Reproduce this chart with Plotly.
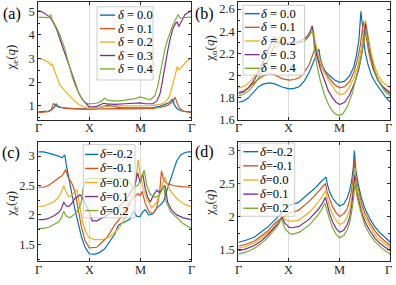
import plotly.graph_objects as go

W, H = 396, 285
COLORS = ['#0072BD', '#D95319', '#EDB120', '#7E2F8E', '#77AC30']
Q_TICKS = [0, 1, 2, 3]
Q_LABELS = ['Γ', 'X', 'M', 'Γ']
DELTA_TOP = ['0.0', '0.1', '0.2', '0.3', '0.4']
DELTA_BOT = ['-0.2', '-0.1', '0.0', '0.1', '0.2']

# ---------------- panel (a): chi_e, delta = 0.0 .. 0.4 ----------------
qa0 = [0, 0.1, 0.2, 0.26, 0.31, 0.35, 0.37, 0.42, 0.5, 0.7, 0.9, 1.0, 1.15, 1.3, 1.38, 1.45, 1.6, 1.8, 2.0, 2.2, 2.4, 2.5, 2.57, 2.64, 2.67, 2.72, 2.8, 2.9, 3.0]
ca0 = [0.73, 0.74, 0.77, 0.82, 0.92, 1.07, 1.0, 0.95, 0.9, 0.87, 0.85, 0.85, 0.9, 0.98, 1.02, 0.97, 0.92, 0.9, 0.89, 0.9, 0.98, 1.05, 1.12, 1.28, 1.05, 0.88, 0.78, 0.74, 0.73]
qa1 = [0, 0.1, 0.2, 0.25, 0.28, 0.30, 0.33, 0.4, 0.55, 0.75, 1.0, 1.2, 1.4, 1.6, 1.8, 2.0, 2.2, 2.4, 2.55, 2.63, 2.69, 2.72, 2.77, 2.85, 3.0]
ca1 = [0.70, 0.71, 0.74, 0.8, 0.95, 1.1, 1.0, 0.93, 0.88, 0.85, 0.84, 0.86, 0.88, 0.87, 0.86, 0.86, 0.87, 0.92, 1.02, 1.15, 1.35, 1.15, 0.9, 0.77, 0.70]
qa2 = [0, 0.1, 0.2, 0.25, 0.27, 0.3, 0.36, 0.42, 0.5, 0.6, 0.7, 0.8, 0.9, 1.0, 1.2, 1.4, 1.5, 1.7, 1.9, 2.0, 2.2, 2.4, 2.5, 2.58, 2.64, 2.69, 2.73, 2.76, 2.8, 2.9, 3.0]
ca2 = [3.0, 2.95, 2.84, 2.72, 2.78, 2.6, 2.2, 1.9, 1.68, 1.45, 1.22, 1.05, 0.94, 0.87, 0.92, 0.98, 1.0, 0.99, 1.0, 1.0, 1.0, 1.05, 1.15, 1.4, 1.85, 2.3, 2.66, 2.52, 2.6, 2.85, 3.0]
qa3 = [0, 0.1, 0.2, 0.25, 0.3, 0.36, 0.42, 0.49, 0.55, 0.6, 0.65, 0.7, 0.75, 0.8, 0.88, 1.0, 1.15, 1.28, 1.35, 1.5, 1.7, 1.9, 2.0, 2.1, 2.25, 2.33, 2.39, 2.44, 2.49, 2.54, 2.59, 2.65, 2.7, 2.73, 2.76, 2.8, 2.88, 3.0]
ca3 = [5.04, 4.95, 4.8, 4.7, 4.5, 4.24, 3.85, 3.42, 3.0, 2.7, 2.38, 2.04, 1.75, 1.5, 1.22, 0.94, 0.97, 1.1, 1.07, 1.05, 1.08, 1.1, 1.12, 1.08, 1.08, 1.2, 1.49, 2.05, 2.73, 3.3, 3.83, 4.3, 4.5, 4.55, 4.36, 4.55, 4.86, 5.04]
qa4 = [0, 0.1, 0.18, 0.22, 0.245, 0.27, 0.3, 0.36, 0.43, 0.52, 0.57, 0.62, 0.67, 0.72, 0.77, 0.82, 0.88, 0.95, 1.0, 1.15, 1.25, 1.3, 1.35, 1.45, 1.6, 1.8, 1.9, 2.0, 2.1, 2.2, 2.29, 2.35, 2.39, 2.44, 2.49, 2.54, 2.59, 2.64, 2.69, 2.73, 2.75, 2.78, 2.85, 3.0]
ca4 = [4.76, 4.76, 4.74, 4.78, 4.86, 4.65, 4.55, 4.3, 3.97, 3.42, 3.0, 2.59, 2.2, 1.9, 1.62, 1.42, 1.22, 1.1, 1.07, 1.1, 1.2, 1.32, 1.24, 1.2, 1.2, 1.25, 1.3, 1.37, 1.3, 1.25, 1.42, 1.85, 2.31, 2.9, 3.42, 3.8, 4.12, 4.4, 4.62, 4.78, 4.87, 4.72, 4.74, 4.76]

# ---------------- panel (b): chi_o, delta = 0.0 .. 0.4 ----------------
qb0 = [0, 0.1, 0.2, 0.3, 0.4, 0.5, 0.62, 0.72, 0.85, 1.0, 1.1, 1.2, 1.3, 1.4, 1.48, 1.54, 1.59, 1.62, 1.67, 1.73, 1.8, 1.9, 2.0, 2.1, 2.2, 2.28, 2.33, 2.38, 2.42, 2.45, 2.5, 2.56, 2.63, 2.7, 2.8, 2.9, 3.0]
cb0 = [1.76, 1.77, 1.8, 1.85, 1.9, 1.925, 1.935, 1.925, 1.9, 1.88, 1.885, 1.9, 1.95, 2.03, 2.12, 2.2, 2.24, 2.15, 2.08, 2.03, 2.0, 1.96, 1.94, 1.95, 2.0, 2.08, 2.18, 2.32, 2.58, 2.42, 2.22, 2.1, 2.0, 1.94, 1.87, 1.81, 1.76]
qb1 = [0, 0.1, 0.2, 0.3, 0.4, 0.5, 0.62, 0.75, 0.88, 1.0, 1.1, 1.2, 1.3, 1.4, 1.46, 1.5, 1.52, 1.56, 1.62, 1.7, 1.8, 1.9, 2.0, 2.1, 2.2, 2.28, 2.35, 2.41, 2.47, 2.52, 2.58, 2.65, 2.75, 2.85, 3.0]
cb1 = [1.85, 1.86, 1.89, 1.93, 1.97, 2.0, 2.02, 2.0, 1.97, 1.96, 1.965, 1.98, 2.03, 2.1, 2.17, 2.23, 2.28, 2.2, 2.1, 2.03, 1.97, 1.92, 1.89, 1.9, 1.95, 2.03, 2.14, 2.28, 2.49, 2.36, 2.2, 2.07, 1.96, 1.9, 1.85]
qb2 = [0, 0.1, 0.2, 0.3, 0.4, 0.5, 0.6, 0.7, 0.8, 0.9, 1.0, 1.1, 1.2, 1.3, 1.38, 1.44, 1.48, 1.52, 1.57, 1.64, 1.71, 1.78, 1.85, 1.92, 2.0, 2.1, 2.2, 2.3, 2.37, 2.43, 2.47, 2.51, 2.55, 2.6, 2.68, 2.76, 2.85, 2.93, 3.0]
cb2 = [1.89, 1.9, 1.93, 1.98, 2.05, 2.13, 2.2, 2.25, 2.27, 2.275, 2.275, 2.28, 2.29, 2.31, 2.35, 2.39, 2.42, 2.3, 2.2, 2.1, 2.02, 1.96, 1.91, 1.86, 1.83, 1.84, 1.9, 2.0, 2.1, 2.25, 2.37, 2.5, 2.4, 2.25, 2.1, 2.0, 1.94, 1.91, 1.89]
qb3 = [0, 0.1, 0.2, 0.3, 0.4, 0.5, 0.58, 0.66, 0.7, 0.75, 0.85, 1.0, 1.1, 1.2, 1.3, 1.37, 1.42, 1.46, 1.5, 1.55, 1.62, 1.7, 1.78, 1.86, 1.93, 2.0, 2.1, 2.2, 2.3, 2.38, 2.44, 2.48, 2.51, 2.55, 2.6, 2.68, 2.76, 2.85, 2.93, 3.0]
cb3 = [1.84, 1.85, 1.89, 1.95, 2.03, 2.13, 2.22, 2.3, 2.35, 2.3, 2.29, 2.29, 2.3, 2.31, 2.33, 2.36, 2.4, 2.45, 2.3, 2.18, 2.06, 1.95, 1.86, 1.8, 1.76, 1.74, 1.76, 1.83, 1.94, 2.06, 2.2, 2.33, 2.47, 2.36, 2.2, 2.05, 1.96, 1.9, 1.86, 1.84]
qb4 = [0, 0.1, 0.2, 0.3, 0.4, 0.5, 0.6, 0.7, 0.76, 0.82, 0.9, 1.0, 1.1, 1.2, 1.3, 1.37, 1.42, 1.47, 1.5, 1.55, 1.62, 1.7, 1.78, 1.86, 1.93, 2.0, 2.07, 2.15, 2.25, 2.33, 2.4, 2.46, 2.52, 2.56, 2.62, 2.7, 2.78, 2.86, 2.93, 3.0]
cb4 = [1.82, 1.83, 1.86, 1.91, 1.98, 2.06, 2.15, 2.25, 2.34, 2.3, 2.29, 2.29, 2.29, 2.3, 2.31, 2.34, 2.37, 2.41, 2.25, 2.1, 1.95, 1.83, 1.74, 1.68, 1.65, 1.64, 1.66, 1.72, 1.84, 1.98, 2.12, 2.26, 2.42, 2.33, 2.18, 2.03, 1.94, 1.88, 1.84, 1.82]

# ---------------- panel (c): chi_e, delta = -0.2 .. 0.2 ----------------
qc0 = [0, 0.1, 0.2, 0.3, 0.4, 0.47, 0.52, 0.55, 0.6, 0.66, 0.72, 0.79, 0.85, 0.92, 1.0, 1.1, 1.2, 1.3, 1.41, 1.5, 1.57, 1.62, 1.7, 1.8, 1.87, 1.93, 2.0, 2.05, 2.1, 2.17, 2.25, 2.33, 2.4, 2.46, 2.52, 2.59, 2.66, 2.72, 2.8, 2.88, 2.95, 3.0]
cc0 = [3.07, 3.07, 3.05, 3.03, 3.0, 2.97, 3.02, 2.85, 2.62, 2.33, 2.09, 1.84, 1.62, 1.45, 1.34, 1.33, 1.36, 1.42, 1.55, 1.67, 1.82, 1.85, 1.88, 1.93, 2.07, 1.98, 1.97, 2.05, 2.09, 2.0, 2.02, 2.12, 2.17, 2.23, 2.4, 2.58, 2.78, 2.92, 3.02, 3.06, 3.07, 3.07]
qc1 = [0, 0.1, 0.2, 0.3, 0.4, 0.47, 0.54, 0.58, 0.63, 0.68, 0.73, 0.79, 0.85, 0.92, 1.0, 1.15, 1.35, 1.51, 1.64, 1.8, 1.9, 1.96, 2.0, 2.04, 2.1, 2.18, 2.25, 2.32, 2.38, 2.42, 2.46, 2.52, 2.65, 2.8, 3.0]
cc1 = [2.47, 2.47, 2.5, 2.56, 2.62, 2.67, 2.77, 2.65, 2.58, 2.5, 2.35, 2.06, 1.78, 1.56, 1.44, 1.45, 1.62, 1.84, 1.98, 2.22, 2.32, 2.36, 2.33, 2.4, 2.2, 2.05, 2.02, 2.1, 2.35, 2.75, 2.6, 2.54, 2.5, 2.48, 2.47]
qc2 = [0, 0.1, 0.2, 0.3, 0.4, 0.45, 0.5, 0.55, 0.6, 0.66, 0.72, 0.76, 0.82, 0.88, 0.95, 1.0, 1.1, 1.25, 1.4, 1.5, 1.6, 1.7, 1.8, 1.87, 1.92, 1.96, 2.0, 2.06, 2.13, 2.23, 2.33, 2.43, 2.49, 2.54, 2.6, 2.7, 2.8, 2.9, 3.0]
cc2 = [2.14, 2.15, 2.18, 2.22, 2.3, 2.38, 2.5, 2.38, 2.31, 2.33, 2.4, 2.42, 2.12, 1.84, 1.68, 1.62, 1.58, 1.58, 1.62, 1.7, 1.79, 1.95, 2.17, 2.4, 2.6, 2.94, 2.7, 2.45, 2.28, 2.12, 2.22, 2.5, 2.64, 2.5, 2.4, 2.3, 2.22, 2.17, 2.14]
qc3 = [0, 0.1, 0.2, 0.3, 0.4, 0.45, 0.5, 0.55, 0.6, 0.66, 0.72, 0.78, 0.82, 0.86, 0.92, 1.0, 1.06, 1.15, 1.3, 1.45, 1.6, 1.72, 1.82, 1.9, 1.95, 2.0, 2.05, 2.1, 2.15, 2.2, 2.27, 2.33, 2.38, 2.43, 2.49, 2.54, 2.62, 2.72, 2.85, 3.0]
cc3 = [1.92, 1.92, 1.94, 1.98, 2.04, 2.1, 2.22, 2.15, 2.14, 2.2, 2.28, 2.32, 2.34, 2.3, 2.2, 2.05, 1.9, 1.9, 1.97, 2.05, 2.15, 2.25, 2.4, 2.5, 2.72, 2.55, 2.7, 2.45, 2.3, 2.22, 2.35, 2.42, 2.38, 2.43, 2.5, 2.22, 2.08, 2.0, 1.95, 1.92]
qc4 = [0, 0.1, 0.2, 0.3, 0.4, 0.45, 0.5, 0.55, 0.62, 0.7, 0.79, 0.84, 0.88, 0.93, 1.0, 1.2, 1.4, 1.6, 1.75, 1.87, 1.95, 2.02, 2.08, 2.13, 2.2, 2.28, 2.36, 2.42, 2.46, 2.5, 2.6, 2.72, 2.85, 3.0]
cc4 = [1.77, 1.77, 1.79, 1.83, 1.88, 1.95, 2.06, 1.98, 1.95, 2.0, 2.09, 2.2, 2.45, 2.6, 2.62, 2.62, 2.62, 2.62, 2.6, 2.47, 2.5, 2.6, 2.76, 2.5, 2.35, 2.3, 2.32, 2.4, 2.5, 2.25, 2.05, 1.95, 1.85, 1.77]

# ---------------- panel (d): chi_o, delta = -0.2 .. 0.2 ----------------
qd0 = [0, 0.15, 0.32, 0.45, 0.58, 0.7, 0.78, 0.88, 1.0, 1.18, 1.37, 1.5, 1.6, 1.68, 1.73, 1.76, 1.8, 1.86, 1.93, 2.0, 2.08, 2.15, 2.2, 2.24, 2.27, 2.29, 2.32, 2.37, 2.43, 2.5, 2.6, 2.7, 2.8, 2.89, 3.0]
cd0 = [1.61, 1.64, 1.69, 1.76, 1.84, 1.93, 1.99, 2.07, 2.17, 2.21, 2.33, 2.42, 2.5, 2.56, 2.6, 2.48, 2.38, 2.28, 2.21, 2.16, 2.19, 2.28, 2.4, 2.55, 2.75, 3.0, 2.7, 2.48, 2.28, 2.12, 1.96, 1.84, 1.75, 1.69, 1.61]
qd1 = [0, 0.15, 0.32, 0.45, 0.58, 0.7, 0.78, 0.88, 1.0, 1.18, 1.37, 1.5, 1.6, 1.67, 1.72, 1.75, 1.8, 1.86, 1.93, 2.0, 2.08, 2.15, 2.2, 2.24, 2.27, 2.29, 2.32, 2.37, 2.43, 2.5, 2.6, 2.7, 2.8, 2.89, 3.0]
cd1 = [1.55, 1.58, 1.63, 1.7, 1.78, 1.88, 1.94, 1.99, 2.05, 2.09, 2.21, 2.31, 2.39, 2.46, 2.5, 2.38, 2.27, 2.15, 2.06, 2.0, 2.04, 2.12, 2.26, 2.42, 2.62, 2.87, 2.58, 2.38, 2.2, 2.05, 1.9, 1.78, 1.69, 1.63, 1.56]
qd2 = [0, 0.15, 0.32, 0.45, 0.58, 0.7, 0.78, 0.87, 0.92, 1.0, 1.1, 1.2, 1.4, 1.58, 1.66, 1.72, 1.76, 1.8, 1.86, 1.93, 2.0, 2.08, 2.15, 2.2, 2.24, 2.27, 2.3, 2.33, 2.38, 2.43, 2.5, 2.6, 2.7, 2.8, 2.89, 3.0]
cd2 = [1.52, 1.55, 1.6, 1.67, 1.75, 1.84, 1.91, 2.0, 1.96, 1.93, 1.93, 1.95, 2.06, 2.22, 2.31, 2.39, 2.27, 2.15, 2.03, 1.94, 1.88, 1.91, 1.99, 2.1, 2.27, 2.48, 2.73, 2.48, 2.3, 2.14, 1.98, 1.84, 1.72, 1.64, 1.58, 1.52]
qd3 = [0, 0.15, 0.32, 0.45, 0.58, 0.7, 0.78, 0.86, 0.92, 1.0, 1.06, 1.2, 1.4, 1.58, 1.66, 1.72, 1.76, 1.8, 1.86, 1.93, 2.0, 2.08, 2.15, 2.2, 2.24, 2.27, 2.3, 2.33, 2.38, 2.43, 2.5, 2.6, 2.7, 2.8, 2.89, 3.0]
cd3 = [1.48, 1.51, 1.56, 1.63, 1.72, 1.82, 1.89, 1.99, 1.9, 1.84, 1.83, 1.85, 1.96, 2.11, 2.2, 2.29, 2.17, 2.05, 1.92, 1.82, 1.76, 1.79, 1.88, 1.99, 2.17, 2.38, 2.63, 2.4, 2.22, 2.07, 1.92, 1.78, 1.67, 1.59, 1.54, 1.48]
qd4 = [0, 0.15, 0.32, 0.45, 0.58, 0.7, 0.78, 0.85, 0.92, 1.0, 1.06, 1.2, 1.4, 1.57, 1.65, 1.71, 1.75, 1.8, 1.86, 1.93, 2.0, 2.08, 2.15, 2.2, 2.24, 2.28, 2.31, 2.34, 2.39, 2.44, 2.5, 2.6, 2.7, 2.8, 2.89, 3.0]
cd4 = [1.43, 1.46, 1.52, 1.59, 1.68, 1.78, 1.86, 1.97, 1.82, 1.75, 1.73, 1.76, 1.87, 2.02, 2.11, 2.2, 2.08, 1.96, 1.83, 1.73, 1.68, 1.71, 1.8, 1.91, 2.09, 2.3, 2.55, 2.32, 2.15, 2.0, 1.86, 1.72, 1.62, 1.54, 1.49, 1.43]

PANELS = [
    dict(ax='', qs=[qa0, qa1, qa2, qa3, qa4], cs=[ca0, ca1, ca2, ca3, ca4]),
    dict(ax='2', qs=[qb0, qb1, qb2, qb3, qb4], cs=[cb0, cb1, cb2, cb3, cb4]),
    dict(ax='3', qs=[qc0, qc1, qc2, qc3, qc4], cs=[cc0, cc1, cc2, cc3, cc4]),
    dict(ax='4', qs=[qd0, qd1, qd2, qd3, qd4], cs=[cd0, cd1, cd2, cd3, cd4]),
]

SERIF = 'Liberation Serif, Times New Roman, serif'
AXC = '#262626'

fig = go.Figure()
for p in PANELS:
    for i in range(5):
        fig.add_trace(go.Scatter(x=p['qs'][i], y=p['cs'][i], mode='lines',
                                 line=dict(color=COLORS[i], width=1.2),
                                 xaxis='x' + p['ax'], yaxis='y' + p['ax'],
                                 showlegend=False, hoverinfo='skip'))

def px(x):
    return x / W

def py(y):
    return 1 - y / H

XL_PX = (38.3, 191.0)
XR_PX = (238.3, 390.3)
XL = [px(XL_PX[0]), px(XL_PX[1])]
XR = [px(XR_PX[0]), px(XR_PX[1])]
YT = [py(123.0), py(2.5)]
YB = [py(268.0), py(145.5)]

def xax(domain, anchor):
    return dict(domain=domain, anchor=anchor, range=[0, 3], tickvals=Q_TICKS,
                showticklabels=False, fixedrange=True,
                showgrid=True, gridcolor='#dcdcdc', gridwidth=1, zeroline=False,
                showline=True, linecolor=AXC, linewidth=1, mirror='ticks',
                ticks='inside', ticklen=3, tickcolor=AXC, tickwidth=1)

def yax(domain, anchor, rng, tickvals, ticktext, minor_dtick):
    return dict(domain=domain, anchor=anchor, range=rng, tickvals=tickvals, ticktext=ticktext,
                showgrid=False, zeroline=False, fixedrange=True,
                showline=True, linecolor=AXC, linewidth=1, mirror='ticks',
                ticks='inside', ticklen=3, tickcolor=AXC, tickwidth=1,
                minor=dict(ticks='inside', ticklen=2, dtick=minor_dtick, tickcolor=AXC, showgrid=False),
                tickfont=dict(family=SERIF, size=12.5, color=AXC))

YT_A = [1, 2, 3, 4, 5]
YT_B = [1.6, 1.8, 2, 2.2, 2.4, 2.6]
YT_CD = [1.5, 2, 2.5, 3]

fig.update_layout(
    width=W, height=H, margin=dict(l=0, r=0, t=0, b=0),
    paper_bgcolor='white', plot_bgcolor='white', showlegend=False, hovermode=False,
    xaxis=xax(XL, 'y'), yaxis=yax(YT, 'x', [0.39, 5.38], YT_A, [str(v) for v in YT_A], 0.5),
    xaxis2=xax(XR, 'y2'), yaxis2=yax(YT, 'x2', [1.6, 2.66], YT_B, [f'{v:g}' for v in YT_B], 0.1),
    xaxis3=xax(XL, 'y3'), yaxis3=yax(YB, 'x3', [1.21, 3.24], YT_CD, [f'{v:g}' for v in YT_CD], 0.25),
    xaxis4=xax(XR, 'y4'), yaxis4=yax(YB, 'x4', [1.32, 3.13], YT_CD, [f'{v:g}' for v in YT_CD], 0.25),
)

annotations = []
shapes = []

# x tick labels (Γ X M Γ) under each panel, positioned along that panel's q span
for (xa, xb), ylab in [(XL_PX, 131.5), (XR_PX, 131.5), (XL_PX, 277), (XR_PX, 277)]:
    for qv, lab in zip(Q_TICKS, Q_LABELS):
        xc = xa + (xb - xa) * qv / Q_TICKS[-1]
        xc = min(xc, W - 7.5)
        annotations.append(dict(text=lab, x=px(xc), y=py(ylab), xref='paper', yref='paper',
                                xanchor='center', yanchor='middle', showarrow=False, borderpad=0,
                                font=dict(family=SERIF, size=12.5, color=AXC)))

# panel labels
for txt, (x, y) in zip(['(a)', '(b)', '(c)', '(d)'], [(12, 14), (205, 14), (11, 157), (205, 156)]):
    annotations.append(dict(text=txt, x=px(x), y=py(y), xref='paper', yref='paper',
                            xanchor='center', yanchor='middle', showarrow=False,
                            font=dict(family=SERIF, size=16, color='black')))

# y-axis titles
for txt, (x, y) in zip(['χ<sub>e</sub>(<i>q</i>)', 'χ<sub>o</sub>(<i>q</i>)',
                        'χ<sub>e</sub>(<i>q</i>)', 'χ<sub>o</sub>(<i>q</i>)'],
                       [(12, 59), (211, 50), (12, 209), (211, 208)]):
    annotations.append(dict(text=txt, x=px(x), y=py(y), xref='paper', yref='paper',
                            xanchor='center', yanchor='middle', showarrow=False, textangle=-90,
                            font=dict(family=SERIF, size=13, color=AXC)))

# legends (box, sample lines, labels) in pixel placement
LEGENDS = [
    dict(box=(97, 7, 153, 82), rows=[15.5, 29.3, 43.1, 56.9, 70.7], line=(100, 115), tx=116.5,
         labels=['<i>δ</i> = ' + d for d in DELTA_TOP]),
    dict(box=(243, 5.5, 304.5, 77), rows=[14, 28, 42, 56, 70], line=(244.7, 259.7), tx=260,
         labels=['<i>δ</i> = ' + d for d in DELTA_TOP]),
    dict(box=(83.3, 148.3, 135, 223.3), rows=[158.3, 172.7, 187.1, 201.5, 215.9], line=(85, 98.3), tx=98.5,
         labels=['<i>δ</i>=' + d for d in DELTA_BOT]),
    dict(box=(240, 146.7, 294.7, 221.7), rows=[155.5, 170, 184.5, 199, 213.5], line=(243.3, 258.3), tx=258.5,
         labels=['<i>δ</i>=' + d for d in DELTA_BOT]),
]
for lg in LEGENDS:
    x0, y0, x1, y1 = lg['box']
    shapes.append(dict(type='rect', xref='paper', yref='paper', x0=px(x0), x1=px(x1), y0=py(y1), y1=py(y0),
                       line=dict(color='#c0c0c0', width=0.8), fillcolor='rgba(255,255,255,0.7)', layer='above'))
    for i, (r, lab) in enumerate(zip(lg['rows'], lg['labels'])):
        shapes.append(dict(type='line', xref='paper', yref='paper', x0=px(lg['line'][0]), x1=px(lg['line'][1]),
                           y0=py(r), y1=py(r), line=dict(color=COLORS[i], width=1.4), layer='above'))
        annotations.append(dict(text=lab, x=px(lg['tx']), y=py(r), xref='paper', yref='paper',
                                xanchor='left', yanchor='middle', showarrow=False, borderpad=0,
                                font=dict(family=SERIF, size=12.5, color='black')))

fig.update_layout(annotations=annotations, shapes=shapes)
# remove the browser's default 8px page margin so the 396x285 figure fills the window exactly
fig.write_html('out.html', config={'displayModeBar': False, 'staticPlot': True},
               post_script="document.body.style.margin='0px';document.body.style.overflow='hidden';")
